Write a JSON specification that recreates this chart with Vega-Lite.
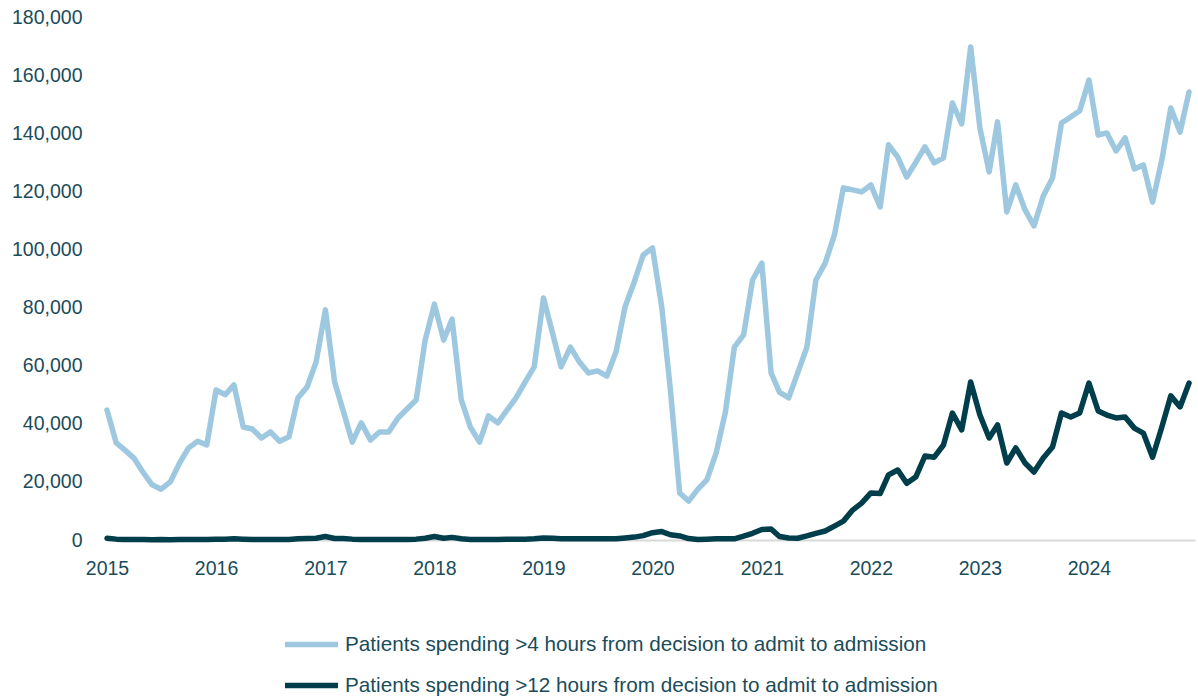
{
  "$schema": "https://vega.github.io/schema/vega-lite/v6.json",
  "autosize": "none",
  "width": 1088,
  "height": 523,
  "padding": {"left": 107, "top": 17, "right": 3, "bottom": 159},
  "background": "white",
  "config": {
    "view": {"stroke": null},
    "font": "Liberation Sans",
    "axis": {"labelFont": "Liberation Sans", "labelFontSize": 19.5, "labelColor": "#1a4c5a", "grid": false, "ticks": false},
    "legend": {"labelFont": "Liberation Sans", "labelFontSize": 20.7, "labelColor": "#1a4c5a"}
  },
  "data": {"values": [
    {"d":"2015-01","a":44700,"b":600},{"d":"2015-02","a":33400,"b":300},{"d":"2015-03","a":31000,"b":200},{"d":"2015-04","a":28200,"b":200},{"d":"2015-05","a":23400,"b":200},{"d":"2015-06","a":19000,"b":100},{"d":"2015-07","a":17500,"b":200},{"d":"2015-08","a":20000,"b":100},{"d":"2015-09","a":26500,"b":200},{"d":"2015-10","a":31700,"b":200},{"d":"2015-11","a":34000,"b":200},{"d":"2015-12","a":32700,"b":200},
    {"d":"2016-01","a":51600,"b":300},{"d":"2016-02","a":50000,"b":300},{"d":"2016-03","a":53400,"b":400},{"d":"2016-04","a":38900,"b":300},{"d":"2016-05","a":38200,"b":200},{"d":"2016-06","a":35100,"b":200},{"d":"2016-07","a":37200,"b":200},{"d":"2016-08","a":34000,"b":200},{"d":"2016-09","a":35500,"b":200},{"d":"2016-10","a":48900,"b":400},{"d":"2016-11","a":52700,"b":500},{"d":"2016-12","a":61300,"b":600},
    {"d":"2017-01","a":79200,"b":1200},{"d":"2017-02","a":54400,"b":500},{"d":"2017-03","a":44700,"b":500},{"d":"2017-04","a":33700,"b":300},{"d":"2017-05","a":40300,"b":200},{"d":"2017-06","a":34400,"b":200},{"d":"2017-07","a":37200,"b":200},{"d":"2017-08","a":37200,"b":200},{"d":"2017-09","a":42000,"b":200},{"d":"2017-10","a":45100,"b":200},{"d":"2017-11","a":48200,"b":300},{"d":"2017-12","a":68800,"b":600},
    {"d":"2018-01","a":81200,"b":1200},{"d":"2018-02","a":68800,"b":600},{"d":"2018-03","a":76000,"b":900},{"d":"2018-04","a":48200,"b":400},{"d":"2018-05","a":38900,"b":200},{"d":"2018-06","a":33700,"b":200},{"d":"2018-07","a":42700,"b":200},{"d":"2018-08","a":40300,"b":200},{"d":"2018-09","a":44700,"b":300},{"d":"2018-10","a":48900,"b":300},{"d":"2018-11","a":54400,"b":300},{"d":"2018-12","a":59600,"b":400},
    {"d":"2019-01","a":83300,"b":700},{"d":"2019-02","a":71000,"b":600},{"d":"2019-03","a":59600,"b":400},{"d":"2019-04","a":66400,"b":400},{"d":"2019-05","a":61300,"b":400},{"d":"2019-06","a":57500,"b":400},{"d":"2019-07","a":58200,"b":400},{"d":"2019-08","a":56400,"b":400},{"d":"2019-09","a":64700,"b":400},{"d":"2019-10","a":80200,"b":700},{"d":"2019-11","a":88800,"b":1000},{"d":"2019-12","a":98100,"b":1500},
    {"d":"2020-01","a":100500,"b":2500},{"d":"2020-02","a":80200,"b":2900},{"d":"2020-03","a":51600,"b":1800},{"d":"2020-04","a":16200,"b":1400},{"d":"2020-05","a":13400,"b":500},{"d":"2020-06","a":17500,"b":200},{"d":"2020-07","a":20700,"b":300},{"d":"2020-08","a":29900,"b":400},{"d":"2020-09","a":44000,"b":400},{"d":"2020-10","a":66400,"b":400},{"d":"2020-11","a":70600,"b":1300},{"d":"2020-12","a":89500,"b":2300},
    {"d":"2021-01","a":95300,"b":3600},{"d":"2021-02","a":57500,"b":3800},{"d":"2021-03","a":50900,"b":1200},{"d":"2021-04","a":48900,"b":700},{"d":"2021-05","a":57500,"b":600},{"d":"2021-06","a":66400,"b":1400},{"d":"2021-07","a":89500,"b":2300},{"d":"2021-08","a":95300,"b":3100},{"d":"2021-09","a":105000,"b":4800},{"d":"2021-10","a":121200,"b":6500},{"d":"2021-11","a":120500,"b":10300},{"d":"2021-12","a":119800,"b":12700},
    {"d":"2022-01","a":122200,"b":16200},{"d":"2022-02","a":114600,"b":16000},{"d":"2022-03","a":136000,"b":22400},{"d":"2022-04","a":131800,"b":24100},{"d":"2022-05","a":124900,"b":19500},{"d":"2022-06","a":130100,"b":21800},{"d":"2022-07","a":135300,"b":28900},{"d":"2022-08","a":129800,"b":28500},{"d":"2022-09","a":131500,"b":32700},{"d":"2022-10","a":150400,"b":43700},{"d":"2022-11","a":143200,"b":37900},{"d":"2022-12","a":169700,"b":54400},
    {"d":"2023-01","a":141800,"b":43000},{"d":"2023-02","a":126700,"b":35100},{"d":"2023-03","a":143900,"b":39600},{"d":"2023-04","a":112900,"b":26500},{"d":"2023-05","a":122200,"b":31700},{"d":"2023-06","a":113600,"b":26500},{"d":"2023-07","a":108100,"b":23400},{"d":"2023-08","a":118400,"b":28200},{"d":"2023-09","a":124600,"b":32000},{"d":"2023-10","a":143500,"b":43700},{"d":"2023-11","a":145600,"b":42300},{"d":"2023-12","a":147700,"b":43700},
    {"d":"2024-01","a":158300,"b":54000},{"d":"2024-02","a":139400,"b":44400},{"d":"2024-03","a":140100,"b":43000},{"d":"2024-04","a":133900,"b":42000},{"d":"2024-05","a":138400,"b":42300},{"d":"2024-06","a":127700,"b":38500},{"d":"2024-07","a":129100,"b":36800},{"d":"2024-08","a":116300,"b":28500},{"d":"2024-09","a":130800,"b":38900},{"d":"2024-10","a":148700,"b":49600},{"d":"2024-11","a":140400,"b":45800},{"d":"2024-12","a":154200,"b":54000}
  ]},
  "transform": [{"fold": ["a", "b"], "as": ["series", "value"]}],
  "mark": {"type": "line", "strokeWidth": 5.5, "strokeJoin": "round", "strokeCap": "round"},
  "encoding": {
    "x": {
      "field": "d", "type": "temporal",
      "scale": {"type": "utc", "domain": [{"year": 2015, "month": 1, "date": 1, "utc": true}, {"year": 2024, "month": 12, "date": 21, "utc": true}]},
      "axis": {"title": null, "format": "%Y", "tickCount": {"interval": "year", "step": 1}, "domainColor": "#d9d9d9", "domainWidth": 2, "labelPadding": 19, "labelFlush": false, "labelOverlap": false}
    },
    "y": {
      "field": "value", "type": "quantitative",
      "scale": {"domain": [0, 180000], "nice": false},
      "axis": {"title": null, "values": [0,20000,40000,60000,80000,100000,120000,140000,160000,180000], "format": ",.0f", "domain": false, "labelPadding": 25}
    },
    "color": {
      "field": "series", "type": "nominal",
      "scale": {"domain": ["a", "b"], "range": ["#9dc8e0", "#003e4b"]},
      "legend": {
        "title": null, "orient": "none", "legendX": 175, "legendY": 598,
        "direction": "vertical", "symbolType": "stroke", "symbolSize": 2809, "symbolStrokeWidth": 5.5,
        "labelOffset": 4, "rowPadding": -11,
        "labelExpr": "datum.value == 'a' ? 'Patients spending >4 hours from decision to admit to admission' : 'Patients spending >12 hours from decision to admit to admission'",
        "labelLimit": 800
      }
    }
  }
}
